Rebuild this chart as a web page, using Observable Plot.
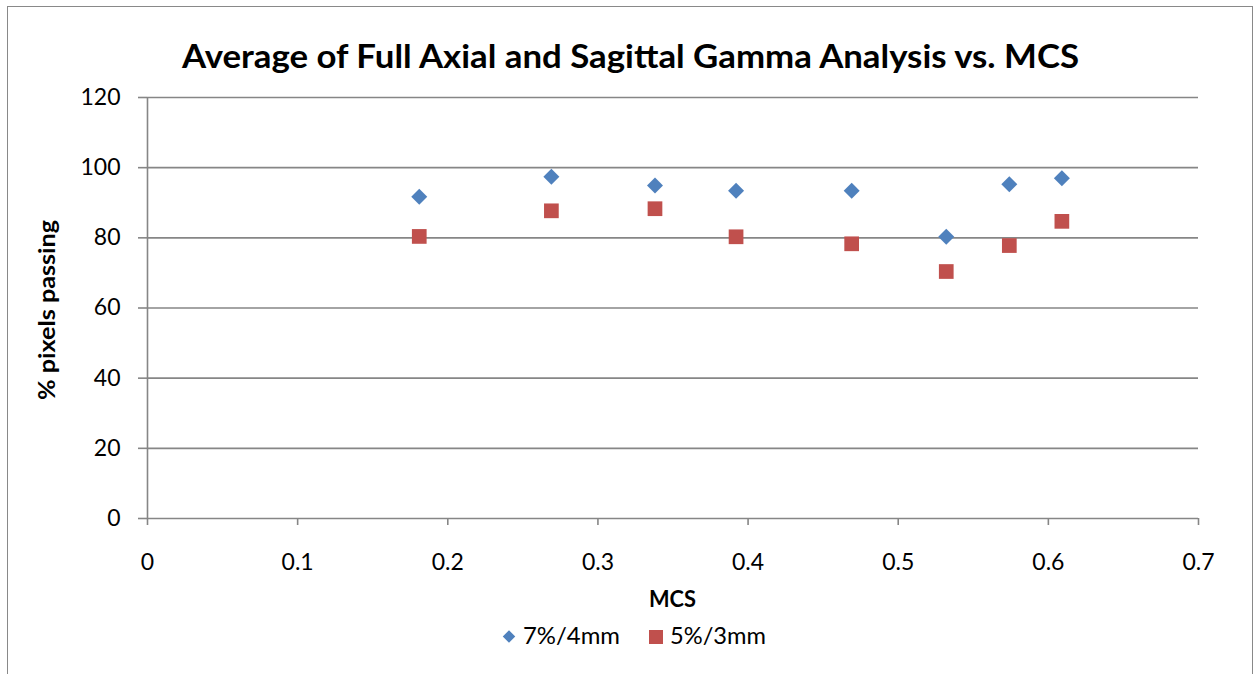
<!DOCTYPE html>
<html>
<head>
<meta charset="utf-8">
<script src="https://cdn.jsdelivr.net/npm/d3@7"></script>
<script src="https://cdn.jsdelivr.net/npm/@observablehq/plot@0.6"></script>
<style>
  html, body { margin: 0; padding: 0; background: #fff; }
  #wrap { position: relative; width: 1258px; height: 674px; overflow: hidden; font-family: Lato, "Open Sans", sans-serif; }
  #frame { position: absolute; left: 7px; top: 6px; width: 1246px; height: 720px; border: 1px solid #898989; box-sizing: border-box; }
  #chart { position: absolute; left: 0; top: 0; }
  #overlay { position: absolute; left: 0; top: 0; pointer-events: none; }
</style>
</head>
<body>
<div id="wrap">
  <div id="frame"></div>
  <div id="chart"></div>
  <svg id="overlay" width="1258" height="674" xmlns="http://www.w3.org/2000/svg"></svg>
</div>
<script>
// ---- data ----
const title = "Average of Full Axial and Sagittal Gamma Analysis vs. MCS";
const xLabel = "MCS";
const yLabel = "% pixels passing";
const seriesNames = ["7%/4mm", "5%/3mm"];
const seriesColors = ["#4F81BD", "#C0504D"];
const mcs = [0.181, 0.269, 0.338, 0.392, 0.469, 0.532, 0.574, 0.609];
const pass7_4 = [91.7, 97.4, 94.9, 93.4, 93.4, 80.3, 95.3, 97.0];
const pass5_3 = [80.4, 87.7, 88.3, 80.3, 78.3, 70.4, 77.8, 84.7];
const xTicks = [0, 0.1, 0.2, 0.3, 0.4, 0.5, 0.6, 0.7];
const yTicks = [0, 20, 40, 60, 80, 100, 120];

const gray = "#868686";
const idx = mcs.map((_, i) => i);

const chart = Plot.plot({
  width: 1258,
  height: 674,
  marginLeft: 147,
  marginRight: 60,
  marginTop: 97,
  marginBottom: 156,
  style: { fontFamily: "Lato, 'Open Sans', sans-serif", fontSize: "23px", color: "#000", background: "transparent", overflow: "visible" },
  x: { domain: [0, 0.7], ticks: xTicks },
  y: { domain: [0, 120], ticks: yTicks },
  marks: [
    Plot.gridY(yTicks.filter(d => d > 0), { stroke: gray, strokeOpacity: 1, strokeWidth: 1.6 }),
    Plot.axisX(xTicks, { tickSize: 7, tickPadding: 28, stroke: gray, strokeWidth: 1.6, fill: "#000", label: null, tickFormat: d => String(d) }),
    Plot.axisY(yTicks, { tickSize: 9, tickPadding: 18, stroke: gray, strokeWidth: 1.6, fill: "#000", label: null, tickFormat: d => String(d) }),
    Plot.ruleX([0], { stroke: gray, strokeWidth: 1.6 }),
    Plot.ruleY([0], { stroke: gray, strokeWidth: 1.6 }),
    Plot.dot(idx, { x: i => mcs[i], y: i => pass7_4[i], symbol: "diamond2", r: 7.2, fill: seriesColors[0], stroke: "none" }),
    Plot.dot(idx, { x: i => mcs[i], y: i => pass5_3[i], symbol: "square", r: 8.3, fill: seriesColors[1], stroke: "none" })
  ]
});
document.getElementById("chart").appendChild(chart);

// ---- overlay texts: title, axis labels, legend ----
const ov = d3.select("#overlay");
ov.append("text")
  .attr("x", 630.5).attr("y", 68.3)
  .attr("text-anchor", "middle")
  .attr("font-family", "Lato, sans-serif").attr("font-weight", "bold").attr("font-size", 32)
  .attr("textLength", 897).attr("lengthAdjust", "spacingAndGlyphs")
  .text(title);
ov.append("text")
  .attr("transform", "translate(55,310) rotate(-90)")
  .attr("text-anchor", "middle")
  .attr("font-family", "Lato, sans-serif").attr("font-weight", "bold").attr("font-size", 23)
  .attr("textLength", 180).attr("lengthAdjust", "spacingAndGlyphs")
  .text(yLabel);
ov.append("text")
  .attr("x", 672.5).attr("y", 606.7)
  .attr("text-anchor", "middle")
  .attr("font-family", "Lato, sans-serif").attr("font-weight", "bold").attr("font-size", 22)
  .attr("textLength", 47).attr("lengthAdjust", "spacingAndGlyphs")
  .text(xLabel);

const legendItems = [
  { name: seriesNames[0], color: seriesColors[0], shape: "diamond", cx: 509, tx: 523, tl: 97 },
  { name: seriesNames[1], color: seriesColors[1], shape: "square", cx: 656, tx: 670, tl: 96 }
];
legendItems.forEach(it => {
  if (it.shape === "diamond") {
    ov.append("path").attr("d", d3.symbol(d3.symbolDiamond2, 100)()).attr("transform", `translate(${it.cx},636.5)`).attr("fill", it.color);
  } else {
    ov.append("rect").attr("x", it.cx - 7).attr("y", 630).attr("width", 14).attr("height", 14).attr("fill", it.color);
  }
  ov.append("text").attr("x", it.tx).attr("y", 644.3)
    .attr("font-family", "Lato, sans-serif").attr("font-size", 23)
    .attr("textLength", it.tl).attr("lengthAdjust", "spacingAndGlyphs")
    .text(it.name);
});
</script>
</body>
</html>
